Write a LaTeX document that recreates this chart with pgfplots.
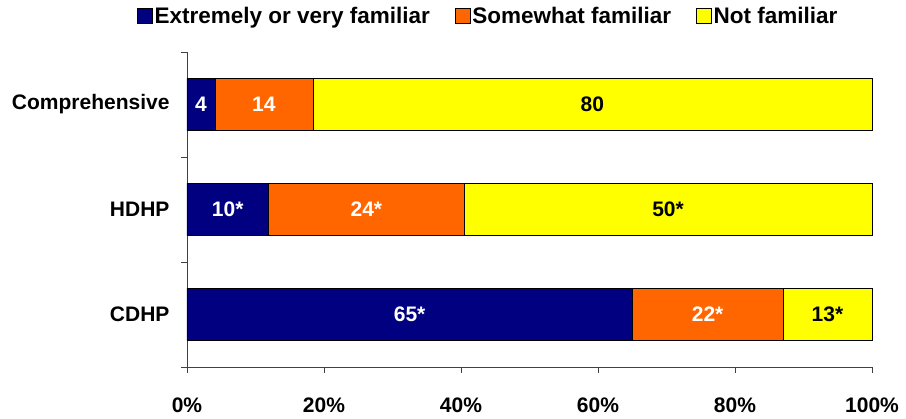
\documentclass[border=0pt]{standalone}
\usepackage{pgfplots}
\pgfplotsset{compat=1.18}
\usepackage{pgfplotstable}
\usepackage{fontspec}
\setmainfont{Liberation Sans}
\definecolor{cnavy}{RGB}{0,0,128}
\definecolor{corange}{RGB}{255,102,0}
\definecolor{cyellow}{RGB}{255,255,0}
\definecolor{caxis}{RGB}{64,64,64}
\newcommand\F{\fontsize{21bp}{24bp}\selectfont\bfseries}
\newcommand\FL{\fontsize{22.5bp}{26bp}\selectfont\bfseries}
% normalized shares (percent of bar) and printed labels
\pgfplotstableread{
pos v1 v2 v3 l1 l2 l3
2 4.08 14.29 81.63 4 14 80
1 11.90 28.57 59.52 10* 24* 50*
0 65 22 13 65* 22* 13*
}\data
\begin{document}
\begin{tikzpicture}
\begin{axis}[
  xbar stacked,
  scale only axis, width=685bp, height=315bp,
  xmin=0, xmax=100, ymin=-0.5, ymax=2.5,
  bar width=52bp,
  axis x line*=bottom, axis y line*=left,
  axis line style={caxis, line width=0.8bp, -},
  xtick={0,20,40,60,80,100},
  xticklabels={0\%,20\%,40\%,60\%,80\%,100\%},
  ytick={0,1,2},
  yticklabels={CDHP,HDHP,Comprehensive},
  minor ytick={-0.5,0.5,1.5,2.5},
  tick align=outside,
  major tick length=6bp, minor tick length=6bp,
  tick style={caxis, line width=0.8bp},
  every major y tick/.append style={draw=none},
  tick label style={font=\F},
  xticklabel style={yshift=-21bp},
  yticklabel style={xshift=-8bp},
  point meta=explicit symbolic,
  nodes near coords,
  legend columns=3,
  legend style={draw=none, fill=none, at={(-0.073,1.114)}, anchor=west, font=\FL, inner sep=0pt,
     /tikz/every even column/.append style={column sep=23bp}, nodes={inner xsep=2bp}},
  legend image code/.code={\draw[#1,draw=black,line width=0.5bp] (0bp,-7.5bp) rectangle (15bp,7.5bp);},
  clip=false,
]
\addplot[fill=cnavy, draw=black, line width=0.5bp,
  every node near coord/.style={font=\F, anchor=center, text=white}]
  table[x=v1, y=pos, meta=l1] {\data};
\addplot[fill=corange, draw=black, line width=0.5bp,
  every node near coord/.style={font=\F, anchor=center, text=white}]
  table[x=v2, y=pos, meta=l2] {\data};
\addplot[fill=cyellow, draw=black, line width=0.5bp,
  every node near coord/.style={font=\F, anchor=center, text=black}]
  table[x=v3, y=pos, meta=l3] {\data};
\legend{Extremely or very familiar, Somewhat familiar, Not familiar}
\end{axis}
\pgfresetboundingbox
\path (current axis.south west) ++(-187bp,-52bp) rectangle ++(906bp,419bp);
\end{tikzpicture}
\end{document}
